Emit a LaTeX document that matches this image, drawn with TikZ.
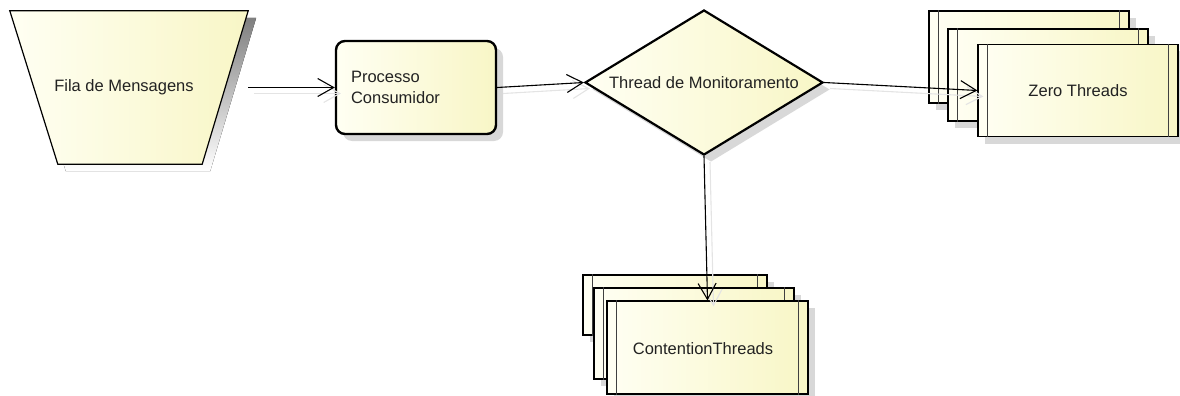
\documentclass[tikz,border=0pt]{standalone}
\usepackage{fontspec}
\setmainfont{Liberation Sans}
\usetikzlibrary{shapes.geometric,arrows.meta,shadows,backgrounds}
\definecolor{fillA}{HTML}{FFFFF3}
\definecolor{fillB}{HTML}{F8F6C6}
\definecolor{shade}{HTML}{D8D8D8}
\definecolor{linkshade}{HTML}{E4E4E4}
\definecolor{ink}{HTML}{222222}
% the two inner vertical bars of a thread box
\newcommand\barlines[1]{%
  \draw[barline] ([xshift=10pt]#1.north west) -- ([xshift=10pt]#1.south west);
  \draw[barline] ([xshift=-10pt]#1.north east) -- ([xshift=-10pt]#1.south east);}
\begin{document}
\begin{tikzpicture}[x=1pt,y=-1pt,
  every node/.style={font=\fontsize{16.5pt}{21.5pt}\selectfont, text=ink},
  yellowfill/.style={left color=fillA, right color=fillB},
  boxshadow/.style={drop shadow={shadow xshift=7pt, shadow yshift=-7pt, fill=shade, opacity=1}},
  procbox/.style={draw, line width=2.4pt, rounded corners=9pt, yellowfill, boxshadow,
    minimum width=160pt, minimum height=93pt, text width=130pt, inner xsep=15pt, align=left},
  decision/.style={diamond, aspect=1.64, draw, line width=2.2pt, yellowfill, boxshadow,
    minimum width=238pt, minimum height=145pt, inner sep=0pt},
  threadbox/.style={draw, line width=1.1pt, yellowfill, boxshadow, inner sep=0pt,
    minimum width=200pt, minimum height=92pt},
  barline/.style={line width=1.5pt, black!75},
  link/.style={line width=1.1pt, black, -{Straight Barb[length=16pt,width=18pt]}},
  linkshadow/.style={line width=1.1pt, linkshade, -{Straight Barb[length=16pt,width=18pt]}}
]
\useasboundingbox (0,0) rectangle (1180,396);

% message queue (trapezoid drawn behind its bounding node)
\node[minimum width=238pt, minimum height=153pt, inner sep=0pt] (fila) at (129,87.5) {};
\node (filatext) at ([xshift=-5pt]fila.center) {Fila de Mensagens};
\begin{scope}[on background layer]
  \fill[shade, transform canvas={shift={(8pt,-7pt)}}]
    (fila.north west) -- (fila.north east) -- ([xshift=-46pt]fila.south east)
    -- ([xshift=48pt]fila.south west) -- cycle;
  \draw[yellowfill, line width=1.2pt]
    (fila.north west) -- (fila.north east) -- ([xshift=-46pt]fila.south east)
    -- ([xshift=48pt]fila.south west) -- cycle;
\end{scope}

% consumer process
\node[procbox] (proc) at (416,87.5) {Processo\\Consumidor};

% monitoring thread
\node[decision] (mon) at (704,82.5) {Thread de Monitoramento};

% zero threads stack
\node[threadbox] (zb) at (1029,57) {};
\barlines{zb}
\node[threadbox] (zm) at (1048,75) {};
\barlines{zm}
\node[threadbox] (zf) at (1078,90.5) {Zero Threads};
\barlines{zf}

% contention threads stack
\node[threadbox, minimum width=184pt, minimum height=60pt] (cb) at (675,305) {};
\barlines{cb}
\node[threadbox, minimum height=91pt] (cm) at (694,333.5) {};
\barlines{cm}
\node[threadbox, minimum width=201pt, minimum height=93pt] (cf) at (707.5,347.5) {};
\barlines{cf}
\node (cftext) at (703,349) {ContentionThreads};

% connector shadows
\begin{scope}[transform canvas={shift={(6pt,-6pt)}}]
  \draw[linkshadow] (fila.east) -- (proc.west);
  \draw[linkshadow] (proc.east) -- (mon.west);
  \draw[linkshadow] (mon.east) -- (zf.west);
  \draw[linkshadow] (mon.south) -- (cf.north);
\end{scope}

% connectors
\draw[link] (fila.east) -- (proc.west);
\draw[link] (proc.east) -- (mon.west);
\draw[link] (mon.east) -- (zf.west);
\draw[link] (mon.south) -- (cf.north);
\end{tikzpicture}
\end{document}
